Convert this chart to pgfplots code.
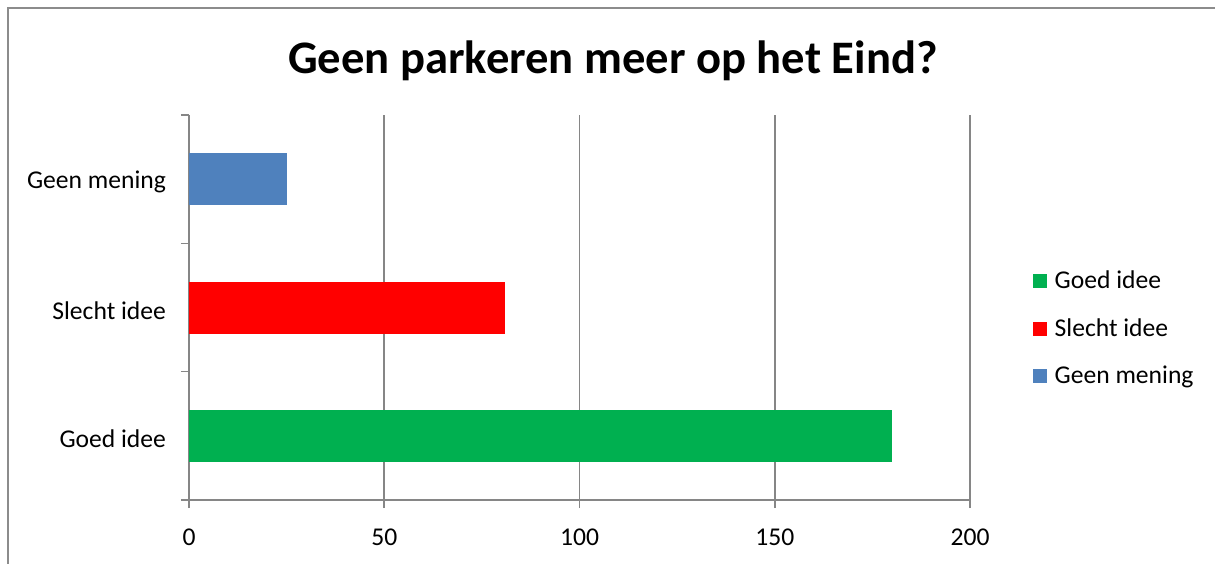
\documentclass[border=0pt]{standalone}
\usepackage{pgfplots}
\pgfplotsset{compat=1.18}
\usepackage{fontspec}
\setmainfont{Carlito}
\definecolor{cgreen}{HTML}{00B050}
\definecolor{cred}{HTML}{FF0000}
\definecolor{cblue}{HTML}{4F81BD}
\definecolor{axisgray}{HTML}{868686}
\definecolor{framegray}{HTML}{8C8C8C}
\begin{document}
\begin{tikzpicture}[x=1pt,y=1pt]
\useasboundingbox (0,0) rectangle (607.5,281.5);
\clip (0,0) rectangle (607.5,281.5);
\draw[color=framegray, line width=0.8pt] (4,-10) -- (4,277.5) -- (620,277.5);
\node[font=\bfseries\fontsize{23.3}{27}\selectfont] at (306.5,251) {Geen parkeren meer op het Eind?};
\begin{axis}[at={(94.5pt,31.5pt)}, anchor=south west, scale only axis,
  width=390.5pt, height=192.5pt,
  xbar, bar width=26pt,
  xmin=0, xmax=200, ymin=-0.5, ymax=2.5,
  xtick={0,50,100,150,200},
  ytick={0,1,2}, yticklabels={Goed idee, Slecht idee, Geen mening},
  minor ytick={-0.5,0.5,1.5,2.5},
  axis x line*=bottom, axis y line*=left,
  tick align=outside,
  major tick length=4pt, minor tick length=4pt,
  major y tick style={draw=none},
  axis line style={draw=axisgray, line width=0.8pt},
  tick style={draw=axisgray, line width=0.8pt},
  xmajorgrids, grid style={draw=axisgray, line width=0.8pt},
  ticklabel style={font=\fontsize{12.8}{15}\selectfont},
  /pgf/number format/assume math mode=true,
  yticklabel style={xshift=-4pt, yshift=-1.5pt},
  xticklabel style={yshift=-7pt},
  legend style={at={(1.072,0.618)}, anchor=north west, draw=none, fill=none,
    font=\fontsize{12.8}{15}\selectfont, row sep=9.5pt, legend cell align=left,
    nodes={inner xsep=4pt}},
  legend image code/.code={\fill[#1] (0pt,-3.5pt) rectangle (7pt,3.5pt);},
]
\addplot[fill=cgreen, draw=none, bar shift=0pt] coordinates {(180,0)};
\addplot[fill=cred, draw=none, bar shift=0pt] coordinates {(81,1)};
\addplot[fill=cblue, draw=none, bar shift=0pt] coordinates {(25,2)};
\legend{Goed idee, Slecht idee, Geen mening}
\end{axis}
\end{tikzpicture}
\end{document}
